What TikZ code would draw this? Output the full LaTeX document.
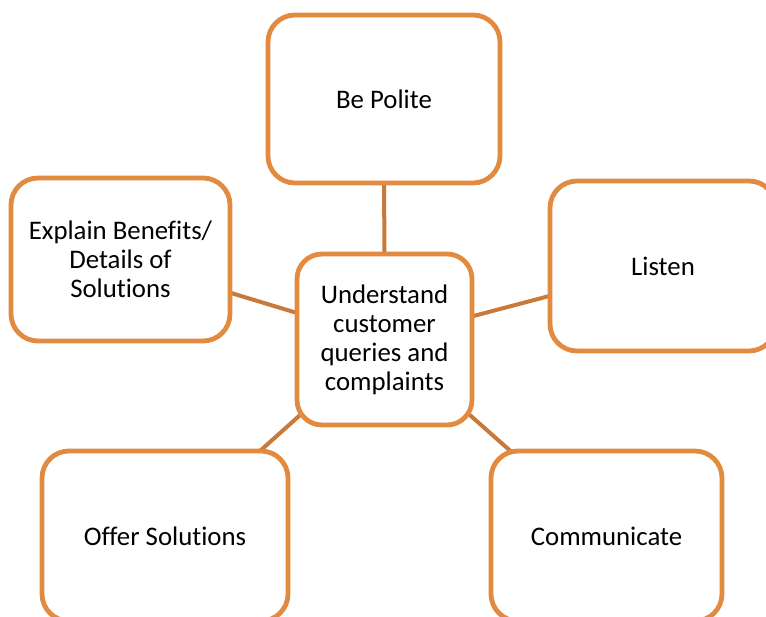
\documentclass[tikz,border=0pt]{standalone}
\usepackage{fontspec}
\setmainfont[Ligatures=NoCommon]{Carlito}
\usetikzlibrary{backgrounds}
\definecolor{boxc}{RGB}{226,138,64}
\definecolor{linkc}{RGB}{200,122,58}
\begin{document}
\begin{tikzpicture}[x=1pt,y=-1pt,
  box/.style={draw=boxc, line width=4.8pt, fill=white, rounded corners=27pt, inner sep=0pt, align=center, font=\fontsize{26.8}{29}\selectfont},
  link/.style={draw=linkc, line width=4pt}]
\useasboundingbox (0,0) rectangle (766,617);
\node[box, minimum width=232pt, minimum height=168pt] (polite) at (384,99) {Be Polite};
\node[box, minimum width=219pt, minimum height=163pt] (explain) at (120.5,259.5) {Explain Benefits/\\Details of\\Solutions};
\node[box, minimum width=175pt, minimum height=171pt, rounded corners=25pt] (hub) at (384.5,339.5) {Understand\\customer\\queries and\\complaints};
\node[box, minimum width=226pt, minimum height=170pt] (listen) at (663,266) {Listen};
\node[box, minimum width=246pt, minimum height=170pt] (offer) at (165,536) {Offer Solutions};
\node[box, minimum width=231pt, minimum height=170pt] (comm) at (606.5,536) {Communicate};
\begin{scope}[on background layer]
\draw[link] (hub.center) -- (polite.center);
\draw[link] (hub.center) -- (explain.center);
\draw[link] (hub.center) -- (listen.center);
\draw[link] (hub.center) -- (offer.center);
\draw[link] (hub.center) -- (comm.center);
\end{scope}
\end{tikzpicture}
\end{document}
